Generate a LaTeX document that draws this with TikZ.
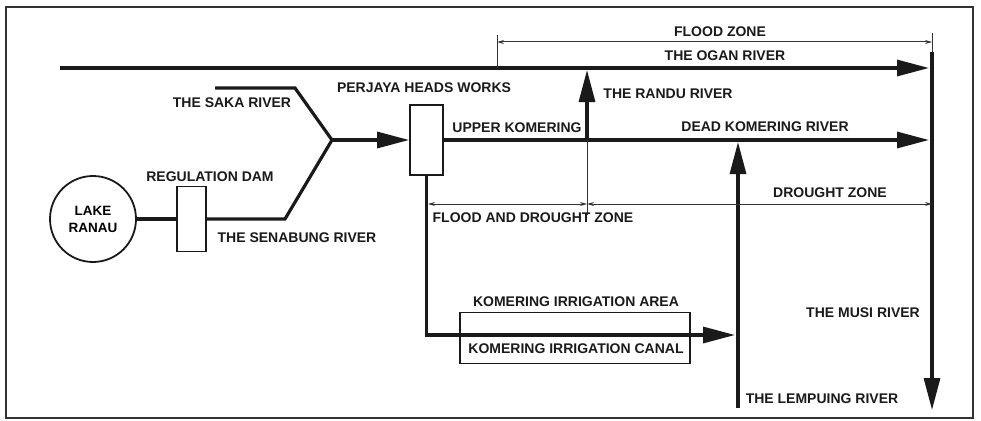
\documentclass[tikz,border=0pt]{standalone}
\usepackage{fontspec}
\setmainfont{Liberation Sans}
\usetikzlibrary{arrows.meta,positioning}
\definecolor{rvink}{HTML}{1A1A1A}
\definecolor{rvgrey}{HTML}{333333}
\tikzset{
  frame/.style={draw=rvgrey,line width=1.6pt},
  gate/.style={draw=rvink,line width=1.8pt,fill=white,minimum width=29pt,
               minimum height=65pt,inner sep=0pt},
  lake/.style={draw=rvink,line width=1.8pt,circle,minimum size=86pt,inner sep=0pt,
               align=center,font=\fontsize{13.5}{17}\selectfont\bfseries},
  area/.style={draw=rvink,line width=1.8pt,minimum width=230pt,minimum height=51pt,
               inner sep=0pt},
  river/.style={draw=rvink,line width=3.2pt},
  riv/.style={river,-{Triangle[length=32pt,width=16pt]}},
  dim/.style={draw=rvgrey,line width=1pt,
              {Stealth[length=7pt,width=4pt]}-{Stealth[length=7pt,width=4pt]}},
  tick/.style={draw=rvgrey,line width=1pt},
  lab/.style={font=\fontsize{14}{16}\selectfont\bfseries,text=rvink,inner sep=1pt},
}
\begin{document}
\begin{tikzpicture}[x=1pt,y=-1pt]
  \useasboundingbox (0,0) rectangle (981,420);
  \draw[frame] (6,7) rectangle (973,418);
  % structures
  \node[lake] (lake) at (93,219) {LAKE\\RANAU};
  \node[gate] (dam) at (191.5,219) {};
  \node[gate,minimum width=33pt,minimum height=70pt] (hw) at (426.5,140) {};
  \node[area] (irr) at (575,338) {};
  % river points
  \coordinate (og0) at (60,68);
  \coordinate (og1) at (929,68);
  \coordinate (sk0) at (215,88);
  \coordinate (sk1) at (295,88);
  \coordinate (jn) at (332,140);
  \coordinate (sn1) at (285,219);
  \coordinate (dk1) at (929,140);
  \coordinate (rd) at (587,140);
  \coordinate (rdtop) at (587,70);
  \coordinate (mu0) at (932,52);
  \coordinate (mu1) at (932,410);
  \coordinate (lp0) at (738,408);
  \coordinate (lp1) at (738,142);
  \coordinate (cn1) at (735,335);
  % zone marks
  \coordinate (fz0) at (497,42);
  \coordinate (fz1) at (932,42);
  \coordinate (fzt) at (497,35);
  \coordinate (mut) at (932,33);
  \coordinate (fd0) at (428,204);
  \coordinate (fd1) at (587,204);
  \coordinate (dz1) at (932,204);
  \coordinate (rdb) at (587,215);
  % rivers
  \draw[riv] (og0) -- (og1);
  \draw[river] (sk0) -- (sk1) -- (jn);
  \draw[river] (jn) -- (sn1) -- (dam.east);
  \draw[river] (lake) -- (dam);
  \draw[riv] (jn) -- (hw.west);
  \draw[riv] (hw.east) -- (dk1);
  \draw[riv] (rd) -- (rdtop);
  \draw[riv] (mu0) -- (mu1);
  \draw[riv] (lp0) -- (lp1);
  \draw[riv] (hw.south) |- (cn1);
  % zones
  \draw[dim] (fz0) -- (fz1);
  \draw[tick] (fzt) -- (fz0 |- og0);
  \draw[tick] (mut) -- (mu0);
  \draw[dim] (fd0) -- (fd1);
  \draw[dim] (fd1) -- (dz1);
  \draw[tick] (rd) -- (rdb);
  % labels
  \node[lab] (lsaka) at (232,103) {THE SAKA RIVER};
  \node[lab] (lhw) at (424,88) {PERJAYA HEADS WORKS};
  \node[lab] (ldam) at (210,177) {REGULATION DAM};
  \node[lab] (lsen) at (297,238) {THE SENABUNG RIVER};
  \node[lab] (lup) at (517,128) {UPPER KOMERING};
  \node[lab] (ldk) at (765,127) {DEAD KOMERING RIVER};
  \node[lab] (lrd) at (668,94) {THE RANDU RIVER};
  \node[lab] (lfz) at (720,32) {FLOOD ZONE};
  \node[lab] (log) at (725,56) {THE OGAN RIVER};
  \node[lab] (ldz) at (830,193) {DROUGHT ZONE};
  \node[lab] (lfd) at (533,218) {FLOOD AND DROUGHT ZONE};
  \node[lab] (lia) at (576,302) {KOMERING IRRIGATION AREA};
  \node[lab] (lic) at (576,349) {KOMERING IRRIGATION CANAL};
  \node[lab] (lmu) at (863,313) {THE MUSI RIVER};
  \node[lab] (llp) at (822,399) {THE LEMPUING RIVER};
\end{tikzpicture}
\end{document}
